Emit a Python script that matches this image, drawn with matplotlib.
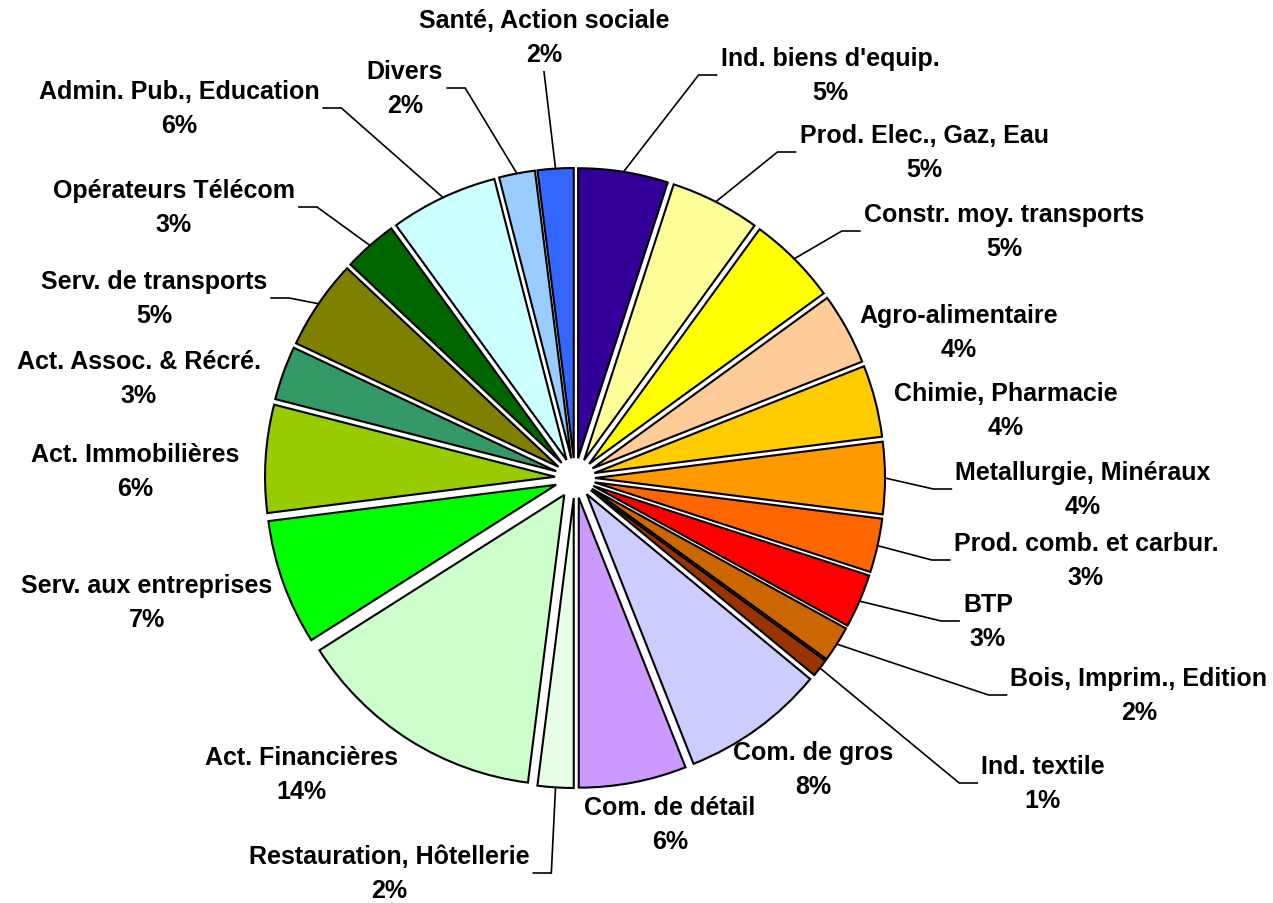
import math

import matplotlib
matplotlib.use("Agg")
import matplotlib.pyplot as plt

# -----------------------------------------------------------------------------
# Données : répartition par secteur (%)
# -----------------------------------------------------------------------------
sectors = [
    "Ind. biens d'equip.", "Prod. Elec., Gaz, Eau", "Constr. moy. transports",
    "Agro-alimentaire", "Chimie, Pharmacie", "Metallurgie, Minéraux",
    "Prod. comb. et carbur.", "BTP", "Bois, Imprim., Edition", "Ind. textile",
    "Com. de gros", "Com. de détail", "Restauration, Hôtellerie",
    "Act. Financières", "Serv. aux entreprises", "Act. Immobilières",
    "Act. Assoc. & Récré.", "Serv. de transports", "Opérateurs Télécom",
    "Admin. Pub., Education", "Divers", "Santé, Action sociale",
]
shares = [5, 5, 5, 4, 4, 4, 3, 3, 2, 1, 8, 6, 2, 14, 7, 6, 3, 5, 3, 6, 2, 2]
colors = [
    "#330099", "#FFFF99", "#FFFF00", "#FFCC99", "#FFCC00", "#FF9900",
    "#FF6600", "#FF0000", "#CC6600", "#993300", "#CCCCFF", "#CC99FF",
    "#E6FFE6", "#CCFFCC", "#00FF00", "#99CC00", "#339966", "#808000",
    "#006600", "#CCFFFF", "#99CCFF", "#3366FF",
]

# position des étiquettes (centre du bloc, pixels) + côté du trait de rappel
label_pos = [
    (830, 76), (924, 153), (1004, 232), (959, 333), (1006, 411), (1083, 490),
    (1086, 561), (988, 622), (1139, 696), (1043, 784), (813, 770), (670, 825),
    (389, 874), (301, 775), (147, 603), (135, 472), (139, 379), (154, 299),
    (174, 208), (179, 109), (405, 89), (544, 38),
]
leader = ["R", "R", "R", None, None, "R", "R", "R", "R", "R", None, None,
          "L", None, None, None, None, "L", "L", "L", "L", "B"]

W, H = 1273, 904
CX, CY, R = 575, 479, 290
OFFSET = 20  # éclatement des secteurs (px)

fig = plt.figure(figsize=(W / 100, H / 100), dpi=100)
ax = fig.add_axes([0, 0, 1, 1])

wedges, _ = ax.pie(
    shares, colors=colors, startangle=90, counterclock=False,
    center=(CX, H - CY), radius=R, explode=[OFFSET] * len(shares),
    wedgeprops=dict(edgecolor="black", linewidth=1.5),
)
ax.set_xlim(0, W)
ax.set_ylim(0, H)
ax.set_aspect("equal")
ax.axis("off")

texts = []
for name, v, (lx, ly) in zip(sectors, shares, label_pos):
    t = ax.text(lx, H - ly, f"{name}\n{v:.0f}%", ha="center", va="center",
                multialignment="center", fontsize=18, fontweight="bold",
                family=["Liberation Sans", "DejaVu Sans"], linespacing=1.5)
    texts.append(t)

# ---------------- traits de rappel ----------------
fig.canvas.draw()
renderer = fig.canvas.get_renderer()
inv = ax.transData.inverted()
for w, t, side in zip(wedges, texts, leader):
    if side is None:
        continue
    a = math.radians((w.theta1 + w.theta2) / 2)
    sx = w.center[0] + w.r * math.cos(a)
    sy = w.center[1] + w.r * math.sin(a)
    bb = t.get_window_extent(renderer)
    (x0, y0), (x1, y1) = inv.transform([(bb.x0, bb.y0), (bb.x1, bb.y1)])
    ym = (y0 + y1) / 2
    if side == "R":
        ex = x0 - 4
        xs, ys = [sx, ex - 18, ex], [sy, ym, ym]
    elif side == "L":
        ex = x1 + 4
        xs, ys = [sx, ex + 18, ex], [sy, ym, ym]
    else:
        xs, ys = [sx, (x0 + x1) / 2], [sy, y0 - 6]
    ax.plot(xs, ys, color="black", lw=1.2, solid_joinstyle="miter")

fig.savefig("out.png", dpi=100)
